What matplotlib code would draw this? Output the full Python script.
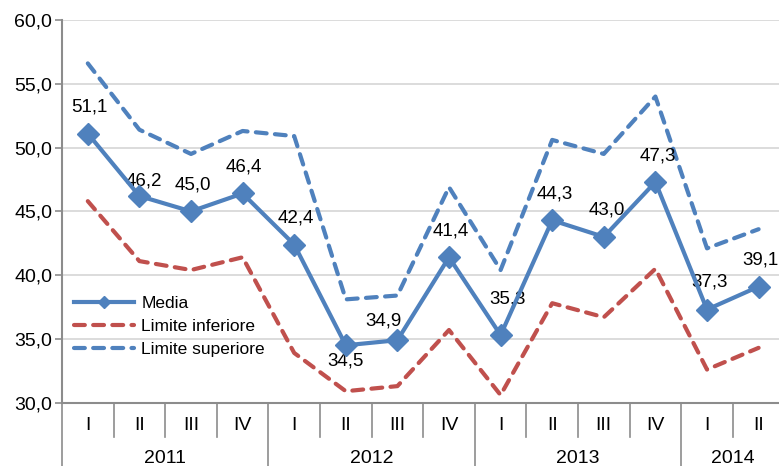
import matplotlib
matplotlib.use("Agg")
import matplotlib.pyplot as plt
from matplotlib.ticker import FuncFormatter

plt.rcParams['font.family'] = ['Liberation Sans', 'DejaVu Sans']

quarters = ["I", "II", "III", "IV", "I", "II", "III", "IV", "I", "II", "III", "IV", "I", "II"]
years = ["2011", "2012", "2013", "2014"]
year_len = [4, 4, 4, 2]

media = [51.1, 46.2, 45.0, 46.4, 42.4, 34.5, 34.9, 41.4, 35.3, 44.3, 43.0, 47.3, 37.3, 39.1]
lim_inf = [45.8, 41.1, 40.4, 41.4, 33.9, 30.9, 31.3, 35.7, 30.6, 37.8, 36.7, 40.5, 32.6, 34.3]
lim_sup = [56.6, 51.4, 49.5, 51.3, 50.9, 38.1, 38.4, 46.9, 40.4, 50.6, 49.5, 54.0, 42.1, 43.6]

# spostamento etichette (punti)
label_offsets = [(1, 19), (3, 10.5), (1, 19), (1, 19), (1, 19), (0, -11.5), (-10, 13.5),
                 (1, 19), (5, 26), (2, 19), (2, 19), (2, 19), (2, 20), (1.5, 19)]

blue = "#4F81BD"
red = "#C0504D"
grid_col = "#D9D9D9"
axis_col = "#8C8C8C"

fig = plt.figure(figsize=(7.79, 4.66), dpi=100)
ax = fig.add_axes([62 / 779, 63.3 / 466, 722.4 / 779, 382.7 / 466])

x = list(range(len(media)))
ax.plot(x, media, color=blue, linewidth=3, marker="D", markersize=11.5,
        label="Media", zorder=4)
l1, = ax.plot(x, lim_inf, color=red, linewidth=3, label="Limite inferiore",
              dash_capstyle="round", zorder=3)
l2, = ax.plot(x, lim_sup, color=blue, linewidth=3, label="Limite superiore",
              dash_capstyle="round", zorder=3)
l1.set_dashes((2.6, 2.0))
l2.set_dashes((2.6, 2.0))

for i, v in enumerate(media):
    ax.annotate(f"{v:.1f}".replace(".", ","), (i, v), xytext=label_offsets[i],
                textcoords="offset points", ha="center", va="center",
                fontsize=13.5, color="black", annotation_clip=False)

ax.set_xlim(-0.5, len(media) - 0.5)
ax.set_ylim(30, 60)
ax.set_yticks([30, 35, 40, 45, 50, 55, 60])
ax.yaxis.set_major_formatter(FuncFormatter(lambda v, p: f"{v:.1f}".replace(".", ",")))
ax.tick_params(axis="y", length=5, width=1.2, color=axis_col, labelsize=14, pad=2)
ax.set_xticks([])
ax.grid(axis="y", color=grid_col, linewidth=1.3)
ax.set_axisbelow(True)

for s in ["top", "right"]:
    ax.spines[s].set_visible(False)
ax.spines["left"].set_color(axis_col)
ax.spines["left"].set_linewidth(1.5)
ax.spines["bottom"].set_color(axis_col)
ax.spines["bottom"].set_linewidth(1.5)

# assi delle categorie a due livelli
tr = ax.get_xaxis_transform()
for i, q in enumerate(quarters):
    ax.text(i, -0.059, q, transform=tr, ha="center", va="center", fontsize=14)
ends = []
start = 0
for y, n in zip(years, year_len):
    ax.text(start + (n - 1) / 2, -0.147, y, transform=tr, ha="center", va="center", fontsize=14)
    start += n
    ends.append(start - 0.5)
for b in range(len(quarters) + 1):
    xb = b - 0.5
    low = -0.17 if (xb in ends or b == 0) else -0.09
    ax.plot([xb, xb], [0, low], transform=tr, color=axis_col, linewidth=1.2, clip_on=False)

ax.legend(loc="center left", bbox_to_anchor=(0.016, 0.2), frameon=False, fontsize=12.5,
          handlelength=3.5, handletextpad=0.4, labelspacing=0.45, borderpad=0,
          borderaxespad=0, markerscale=0.5)

fig.savefig("out.png", dpi=100)
